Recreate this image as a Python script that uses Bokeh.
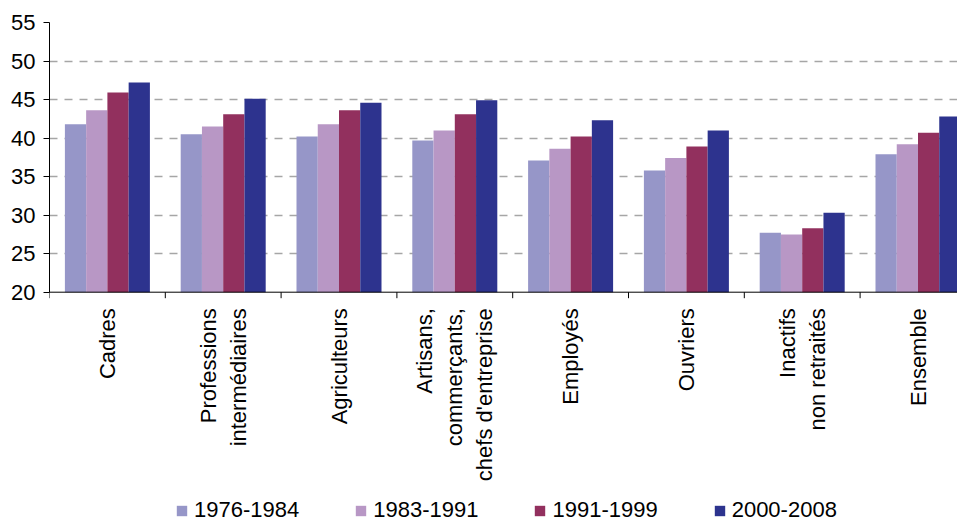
import math
from bokeh.plotting import figure
from bokeh.models import (ColumnDataSource, Range1d, FixedTicker, Legend, LegendItem, Span)
from bokeh.core.properties import value
from bokeh.embed import file_html
from bokeh.resources import INLINE

categories = ["Cadres", "Professions\nintermédiaires", "Agriculteurs",
              "Artisans,\ncommerçants,\nchefs d'entreprise", "Employés", "Ouvriers",
              "Inactifs\nnon retraités", "Ensemble"]
series_names = ["1976-1984", "1983-1991", "1991-1999", "2000-2008"]
s1976 = [41.8, 40.5, 40.2, 39.7, 37.1, 35.8, 27.7, 37.9]
s1983 = [43.6, 41.5, 41.8, 41.0, 38.6, 37.4, 27.5, 39.2]
s1991 = [45.9, 43.1, 43.6, 43.1, 40.2, 38.9, 28.3, 40.7]
s2000 = [47.2, 45.1, 44.6, 44.9, 42.3, 41.0, 30.3, 42.8]
y_ticks = [20, 25, 30, 35, 40, 45, 50, 55]

series = [s1976, s1983, s1991, s2000]
colors = ["#9696c8", "#b897c5", "#92305e", "#2d338e"]

FONT = "Liberation Sans"
FS = "22px"

# layout geometry (pixels)
FRAME_W, FRAME_H = 908, 501
PLOT_PX = 269.7            # pixels between 20 and 55
Y_MIN_VAL, Y_MAX_VAL = y_ticks[0], y_ticks[-1]
px_per_unit = PLOT_PX / (Y_MAX_VAL - Y_MIN_VAL)
y_start = Y_MAX_VAL - FRAME_H / px_per_unit
cat_px = 115.8
x_end = FRAME_W / cat_px

p = figure(frame_width=FRAME_W, frame_height=FRAME_H, output_backend="svg",
           toolbar_location=None, x_axis_location=None,
           x_range=Range1d(0, x_end), y_range=Range1d(y_start, Y_MAX_VAL),
           min_border_left=49, min_border_right=0, min_border_top=22,
           min_border_bottom=0)
p.outline_line_color = None
p.background_fill_color = "white"
p.border_fill_color = "white"

# grid
p.xgrid.grid_line_color = None
p.ygrid.ticker = FixedTicker(ticks=y_ticks[1:])
p.ygrid.grid_line_color = "#a6a6a6"
p.ygrid.grid_line_dash = "8 7"
p.ygrid.grid_line_width = 1.3

bar_w = 0.1835
items = []
for k, (name, vals, col) in enumerate(zip(series_names, series, colors)):
    xs = [i + 0.5 + (k - 1.5) * bar_w for i in range(len(categories))]
    src = ColumnDataSource(dict(x=xs, top=vals))
    r = p.vbar(x="x", top="top", bottom=Y_MIN_VAL, width=bar_w, source=src,
               fill_color=col, line_color=None)
    items.append(LegendItem(label=name, renderers=[r]))

# category axis: line, boundary ticks, rotated labels
p.add_layout(Span(location=Y_MIN_VAL, dimension="width", line_color="#000000", line_width=1))
bounds = list(range(len(categories) + 1))
tick_len = 6 / px_per_unit
p.segment(x0=bounds, y0=[Y_MIN_VAL] * len(bounds), x1=bounds,
          y1=[Y_MIN_VAL - tick_len] * len(bounds), line_color="#000000", line_width=1)

centers = [i + 0.5 for i in range(len(categories))]
label_y = Y_MIN_VAL - 16 / px_per_unit
p.text(x=centers, y=[label_y] * len(centers), text=categories, angle=math.pi / 2,
       text_align="right", text_baseline="middle", text_font=value(FONT),
       text_font_size=value(FS), text_color="#000000", text_line_height=1.2)

# y axis
p.yaxis.ticker = FixedTicker(ticks=y_ticks)
p.yaxis.bounds = (Y_MIN_VAL, Y_MAX_VAL)
p.yaxis.major_tick_out = 6
p.yaxis.major_tick_in = 0
p.yaxis.minor_tick_line_color = None
p.yaxis.axis_line_color = "#000000"
p.yaxis.major_tick_line_color = "#000000"
p.yaxis.major_label_standoff = 8
p.yaxis.major_label_text_font = FONT
p.yaxis.major_label_text_font_size = FS
p.yaxis.major_label_text_color = "#000000"

legend = Legend(items=items, orientation="horizontal", location=(126, 0))
legend.glyph_width = 13
legend.glyph_height = 13
legend.label_standoff = 6
legend.spacing = 55
legend.label_height = 13
legend.label_text_font = FONT
legend.label_text_font_size = FS
legend.label_text_color = "#000000"
legend.border_line_color = None
legend.background_fill_alpha = 0
legend.padding = 0
legend.margin = 0
p.add_layout(legend, "center")

open("out.html", "w").write(file_html(p, INLINE))
